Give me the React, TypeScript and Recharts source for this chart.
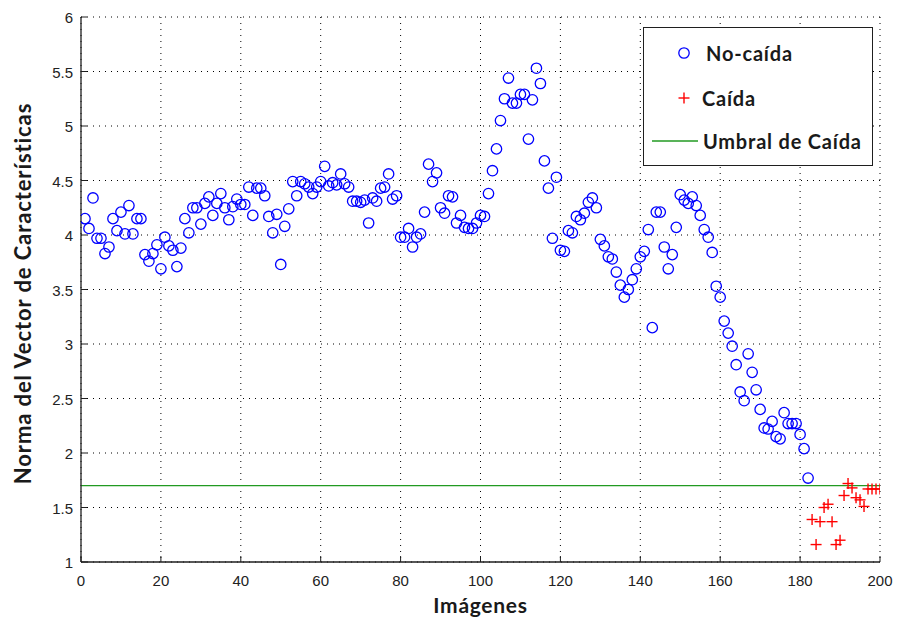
import {
  CartesianGrid,
  Legend,
  ReferenceLine,
  Scatter,
  ScatterChart,
  XAxis,
  YAxis
} from "recharts";

const xTicks = [0, 20, 40, 60, 80, 100, 120, 140, 160, 180, 200];
const yTicks = [1, 1.5, 2, 2.5, 3, 3.5, 4, 4.5, 5, 5.5, 6];
const umbralCaida = 1.7;

// imágenes 1..182
const noCaidaStart = 1;
const noCaida = [
  4.15, 4.06, 4.34, 3.97, 3.97, 3.83, 3.89, 4.15, 4.04, 4.21,
  4.01, 4.27, 4.01, 4.15, 4.15, 3.82, 3.76, 3.83, 3.91, 3.69,
  3.98, 3.9, 3.86, 3.71, 3.88, 4.15, 4.02, 4.25, 4.25, 4.1,
  4.29, 4.35, 4.18, 4.29, 4.38, 4.25, 4.14, 4.26, 4.33, 4.28,
  4.28, 4.44, 4.18, 4.43, 4.43, 4.36, 4.17, 4.02, 4.19, 3.73,
  4.08, 4.24, 4.49, 4.36, 4.49, 4.47, 4.44, 4.38, 4.44, 4.49,
  4.63, 4.45, 4.48, 4.46, 4.56, 4.47, 4.44, 4.31, 4.31, 4.3,
  4.32, 4.11, 4.34, 4.31, 4.43, 4.44, 4.56, 4.33, 4.36, 3.98,
  3.98, 4.06, 3.89, 3.98, 4.01, 4.21, 4.65, 4.49, 4.57, 4.25,
  4.2, 4.36, 4.35, 4.11, 4.18, 4.07, 4.06, 4.06, 4.11, 4.18,
  4.17, 4.38, 4.59, 4.79, 5.05, 5.25, 5.44, 5.21, 5.21, 5.29,
  5.29, 4.88, 5.24, 5.53, 5.39, 4.68, 4.43, 3.97, 4.53, 3.86,
  3.85, 4.04, 4.02, 4.17, 4.14, 4.2, 4.3, 4.34, 4.25, 3.96,
  3.9, 3.8, 3.78, 3.66, 3.54, 3.43, 3.5, 3.59, 3.69, 3.8,
  3.85, 4.05, 3.15, 4.21, 4.21, 3.89, 3.69, 3.82, 4.07, 4.37,
  4.32, 4.29, 4.35, 4.27, 4.18, 4.05, 3.98, 3.84, 3.53, 3.43,
  3.21, 3.1, 2.98, 2.81, 2.56, 2.48, 2.91, 2.74, 2.58, 2.4,
  2.23, 2.22, 2.29, 2.15, 2.13, 2.37, 2.27, 2.27, 2.27, 2.17,
  2.04, 1.77
];

// imágenes 183..200
const caidaStart = 183;
const caida = [
  1.39, 1.16, 1.37, 1.5, 1.53, 1.37, 1.16, 1.2, 1.61, 1.72,
  1.68, 1.59, 1.57, 1.51, 1.67, 1.67, 1.67, 1.67
];

const noCaidaData = noCaida.map((v, i) => ({ img: noCaidaStart + i, norma: v }));
const caidaData = caida.map((v, i) => ({ img: caidaStart + i, norma: v }));

const axisColor = "#1f1f1f";
const labelColor = "#1a1a1a";
const umbralColor = "#229a22";
const tickFont = "'Liberation Sans', Arial, sans-serif";
const titleFont = "Lato, 'Open Sans', sans-serif";

const Circulo = (props: any) => (
  <circle cx={props.cx} cy={props.cy} r={5.2} fill="none" stroke="#0000ff" strokeWidth={1.3} />
);

const Cruz = (props: any) => (
  <g stroke="#ff0000" strokeWidth={1.4}>
    <line x1={props.cx - 5.5} y1={props.cy} x2={props.cx + 5.5} y2={props.cy} />
    <line x1={props.cx} y1={props.cy - 5.5} x2={props.cx} y2={props.cy + 5.5} />
  </g>
);

const BottomTick = ({ x, y, payload }: any) => (
  <g>
    <line x1={x} y1={y} x2={x} y2={y - 6} stroke={axisColor} />
    <text x={x} y={y + 24} textAnchor="middle" fontFamily={tickFont} fontSize={15} fill="#222">
      {payload.value}
    </text>
  </g>
);

const TopTick = ({ x, y }: any) => <line x1={x} y1={y} x2={x} y2={y + 6} stroke={axisColor} />;

const LeftTick = ({ x, y, payload }: any) => (
  <g>
    <line x1={x} y1={y} x2={x + 6} y2={y} stroke={axisColor} />
    <text x={x - 8} y={y + 6} textAnchor="end" fontFamily={tickFont} fontSize={15} fill="#222">
      {payload.value}
    </text>
  </g>
);

const RightTick = ({ x, y }: any) => <line x1={x} y1={y} x2={x - 6} y2={y} stroke={axisColor} />;

const YTitle = ({ viewBox }: any) => {
  const cx = viewBox.x + 22;
  const cy = viewBox.y + viewBox.height / 2 + 4;
  return (
    <text
      x={cx}
      y={cy}
      transform={`rotate(-90, ${cx}, ${cy})`}
      textAnchor="middle"
      dominantBaseline="central"
      fontFamily={titleFont}
      fontWeight={700}
      fontSize={22}
      letterSpacing={0.9}
      fill={labelColor}
    >
      Norma del Vector de Características
    </text>
  );
};

const XTitle = ({ viewBox }: any) => (
  <text
    x={viewBox.x + viewBox.width / 2}
    y={viewBox.y + 51}
    textAnchor="middle"
    fontFamily={titleFont}
    fontWeight={700}
    fontSize={21}
    letterSpacing={0.7}
    fill={labelColor}
  >
    Imágenes
  </text>
);

const LegendBox = () => (
  <svg width={230} height={139} style={{ display: "block" }}>
    <rect x={0.5} y={0.5} width={229} height={138} fill="#fff" stroke={axisColor} />
    <circle cx={41} cy={26} r={5.2} fill="none" stroke="#0000ff" strokeWidth={1.3} />
    <g stroke="#ff0000" strokeWidth={1.4}>
      <line x1={35.5} y1={71} x2={46.5} y2={71} />
      <line x1={41} y1={65.5} x2={41} y2={76.5} />
    </g>
    <line x1={9} y1={114} x2={55} y2={114} stroke={umbralColor} strokeWidth={1.3} />
    <g fontFamily={titleFont} fontWeight={700} fontSize={20} letterSpacing={0.8} fill={labelColor}>
      <text x={63} y={26} dominantBaseline="central">No-caída</text>
      <text x={59} y={71} dominantBaseline="central">Caída</text>
      <text x={60} y={114} dominantBaseline="central">Umbral de Caída</text>
    </g>
  </svg>
);

export default function App() {
  return (
    <div style={{ position: "absolute", left: 0, top: 0, background: "#fff" }}>
      <ScatterChart width={897} height={621} margin={{ top: 17, right: 17, bottom: 0, left: 0 }}>
        <CartesianGrid stroke="#000" strokeDasharray="1 5" />
        <XAxis
          type="number"
          dataKey="img"
          domain={[0, 200]}
          ticks={xTicks}
          allowDataOverflow
          height={59}
          tickSize={0}
          tickMargin={0}
          tickLine={false}
          tick={BottomTick}
          axisLine={{ stroke: axisColor, strokeWidth: 1.3 }}
          label={{ content: XTitle }}
        />
        <XAxis
          xAxisId="top"
          orientation="top"
          type="number"
          domain={[0, 200]}
          ticks={xTicks}
          allowDataOverflow
          height={0}
          tickSize={0}
          tickMargin={0}
          tickLine={false}
          tick={TopTick}
          axisLine={{ stroke: axisColor, strokeWidth: 1.3 }}
        />
        <YAxis
          type="number"
          dataKey="norma"
          domain={[1, 6]}
          ticks={yTicks}
          allowDataOverflow
          width={81}
          tickSize={0}
          tickMargin={0}
          tickLine={false}
          tick={LeftTick}
          axisLine={{ stroke: axisColor, strokeWidth: 1.3 }}
          label={{ content: YTitle }}
        />
        <YAxis
          yAxisId="right"
          orientation="right"
          type="number"
          domain={[1, 6]}
          ticks={yTicks}
          allowDataOverflow
          width={0}
          tickSize={0}
          tickMargin={0}
          tickLine={false}
          tick={RightTick}
          axisLine={{ stroke: axisColor, strokeWidth: 1.3 }}
        />
        <ReferenceLine y={umbralCaida} stroke={umbralColor} strokeWidth={1.3} />
        <Scatter name="No-caída" data={noCaidaData} shape={Circulo} isAnimationActive={false} />
        <Scatter name="Caída" data={caidaData} shape={Cruz} isAnimationActive={false} />
        <Legend
          layout="vertical"
          align="center"
          verticalAlign="middle"
          wrapperStyle={{ top: 27, left: 643, width: 230, height: 139 }}
          content={LegendBox}
        />
      </ScatterChart>
    </div>
  );
}
